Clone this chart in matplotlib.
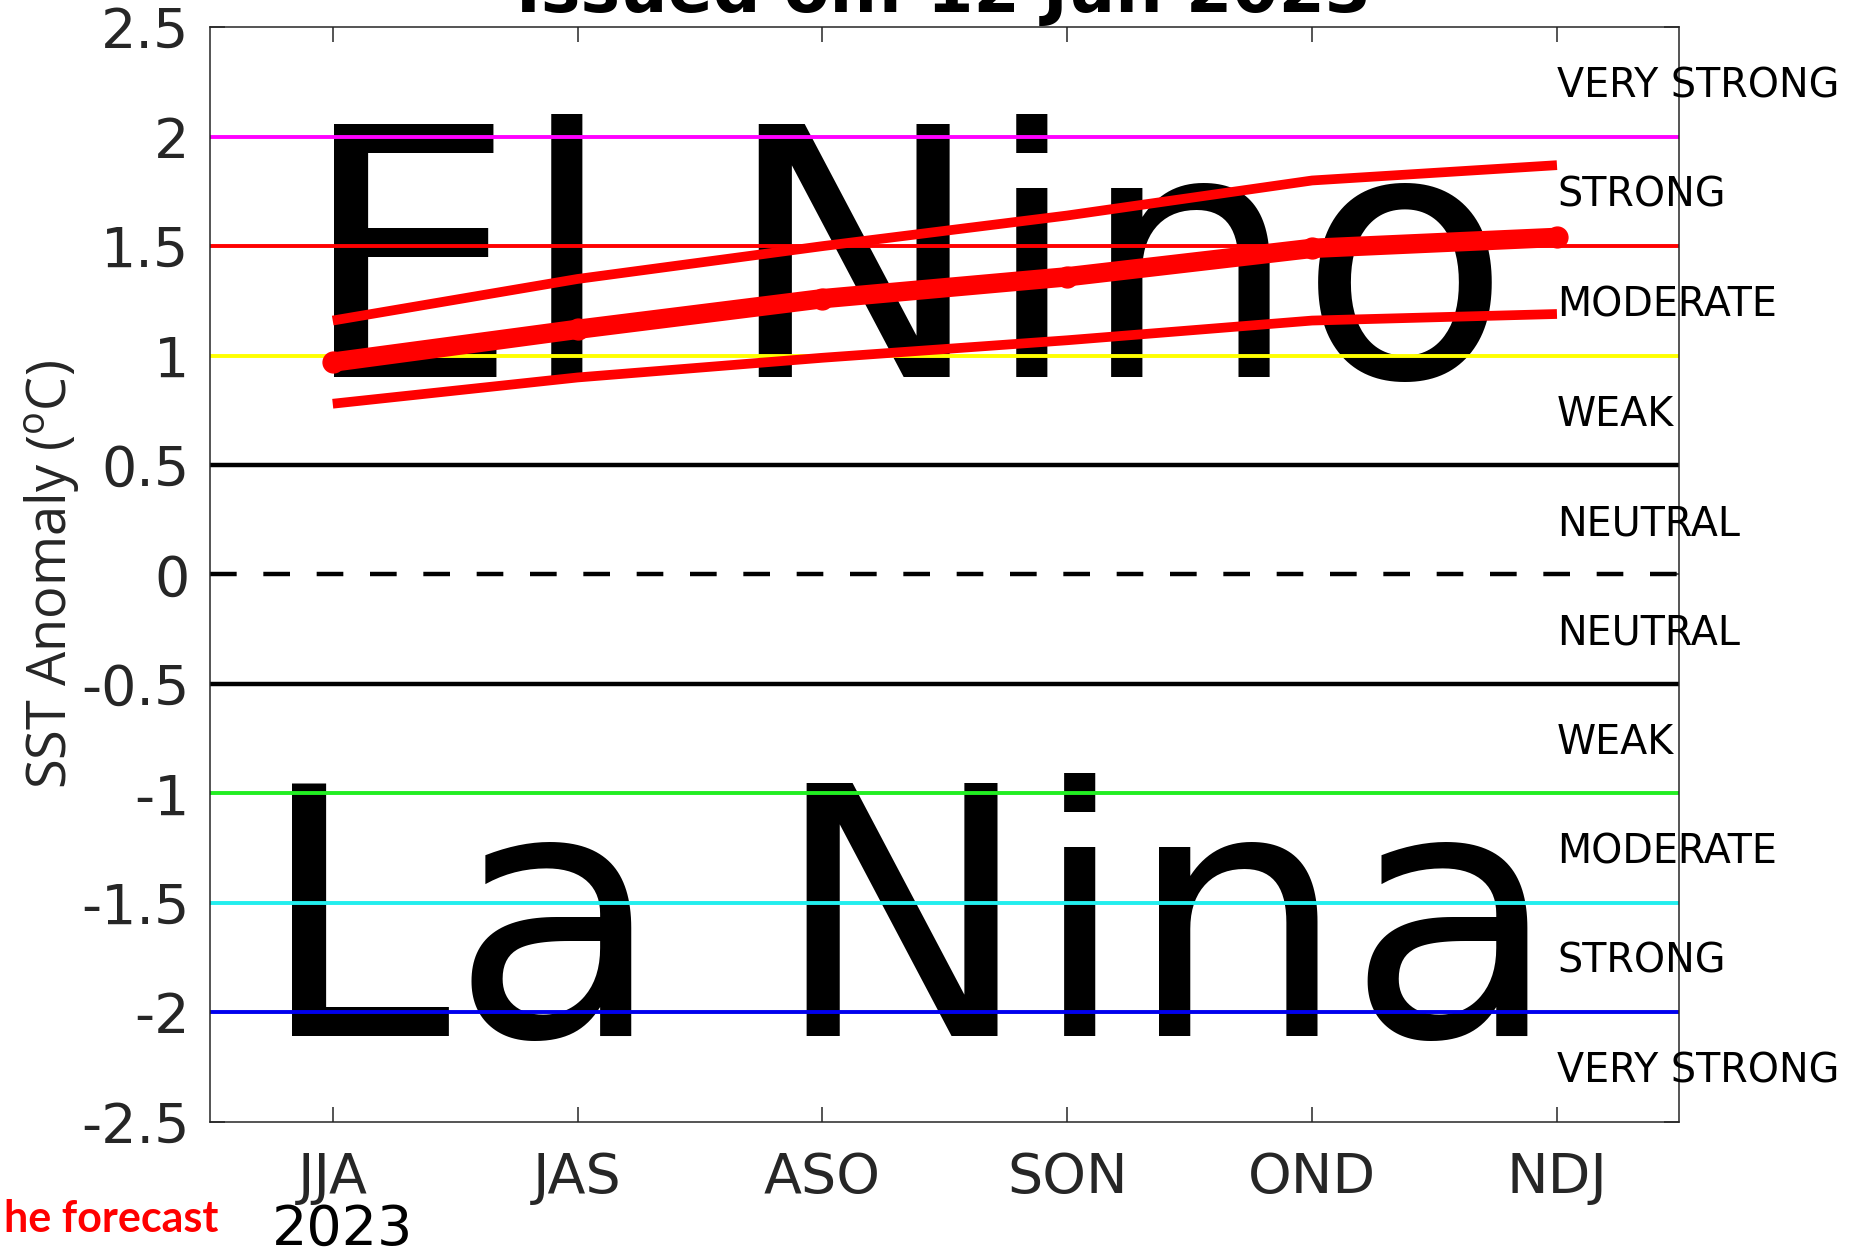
import numpy as np
import matplotlib
matplotlib.use("Agg")
import matplotlib.pyplot as plt

# datos
seasons = ["JJA", "JAS", "ASO", "SON", "OND", "NDJ"]
mean_fc = [0.97, 1.12, 1.26, 1.36, 1.49, 1.54]
upper_fc = [1.16, 1.35, 1.50, 1.64, 1.80, 1.87]
lower_fc = [0.78, 0.90, 0.99, 1.07, 1.16, 1.19]

levels = [2.0, 1.5, 1.0, 0.5, 0.0, -0.5, -1.0, -1.5, -2.0]
level_colors = ["#ff00ff", "#ff0000", "#ffff00", "black", "black", "black",
                "#22ee22", "#22eeee", "#0000ee"]
level_widths = [2.8, 2.8, 2.8, 3.2, 3.2, 3.2, 2.8, 2.8, 2.8]

class_labels = ["VERY STRONG", "STRONG", "MODERATE", "WEAK", "NEUTRAL",
                "NEUTRAL", "WEAK", "MODERATE", "STRONG", "VERY STRONG"]
class_pos = [2.25, 1.75, 1.25, 0.75, 0.25, -0.25, -0.75, -1.25, -1.75, -2.25]

yticks = [2.5, 2, 1.5, 1, 0.5, 0, -0.5, -1, -1.5, -2, -2.5]
ytick_labels = ["2.5", "2", "1.5", "1", "0.5", "0", "-0.5", "-1", "-1.5", "-2", "-2.5"]

x = np.arange(1, len(seasons) + 1)
gray = "#262626"

fig = plt.figure(figsize=(18.53, 12.57), dpi=100)
ax = fig.add_axes([0.1135, 0.1077, 0.7928, 0.8706])

# texto grande de fondo
ax.text(3.34, 0.9, "El Nino", fontsize=249, ha="center", va="baseline",
        color="black", zorder=1, family="DejaVu Sans")
ax.text(3.35, -2.11, "La Nina", fontsize=249, ha="center", va="baseline",
        color="black", zorder=1, family="DejaVu Sans")

# umbrales
for lv, c, w in zip(levels, level_colors, level_widths):
    ls = (0, (6, 6)) if lv == 0 else "-"
    ax.axhline(lv, color=c, lw=w, ls=ls, zorder=2)

# pronostico
ax.plot(x, upper_fc, color="red", lw=7, zorder=3, solid_capstyle="butt")
ax.plot(x, lower_fc, color="red", lw=7, zorder=3, solid_capstyle="butt")
ax.plot(x, mean_fc, color="red", lw=14, marker="o", ms=15, zorder=4,
        solid_capstyle="butt")

for lab, yp in zip(class_labels, class_pos):
    ax.text(x[-1], yp - 0.02, lab, fontsize=28.5, ha="left", va="center",
            color="black", clip_on=False, zorder=5, family="DejaVu Sans")

ax.set_xlim(0.5, 6.5)
ax.set_ylim(-2.5, 2.5)
ax.set_xticks(x)
ax.set_xticklabels(seasons)
ax.set_yticks(yticks)
ax.set_yticklabels(ytick_labels)
ax.tick_params(direction="in", length=11, width=1.1, color=gray,
               labelcolor=gray, labelsize=40, top=True, right=True)
ax.tick_params(axis="x", pad=21)
ax.tick_params(axis="y", pad=15)
for s in ax.spines.values():
    s.set_color(gray)
    s.set_linewidth(1.1)

ax.text(1.04, -0.099, "2023", transform=ax.get_xaxis_transform(),
        fontsize=40, ha="center", va="center", color="black")

ax.set_ylabel("SST Anomaly ($\\mathregular{^{o}}$C)", fontsize=39,
              color=gray, family="Open Sans")
ax.yaxis.set_label_coords(-0.088, 0.5)

fig.text(0.509, 1 - 12 / 1257, "Issued on: 12 Jun 2023", fontsize=48,
         fontweight="bold", ha="center", va="baseline", color="black")
fig.text(218 / 1853, 1 - 1232 / 1257, "he forecast", fontsize=31,
         fontweight="bold", ha="right", va="baseline", color="red",
         family="Lato")

fig.savefig("out.png", dpi=100)
